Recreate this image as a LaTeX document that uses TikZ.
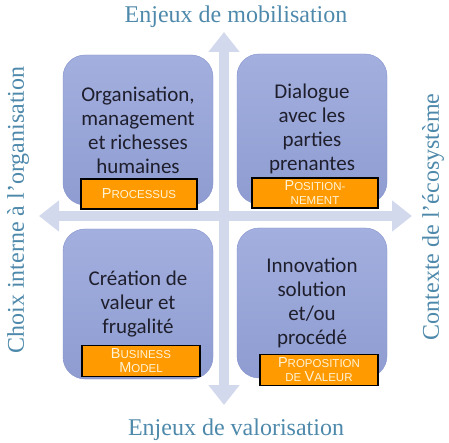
\documentclass[tikz,border=0pt]{standalone}
\usepackage{fontspec}
\setmainfont{Liberation Serif}
\newfontfamily\boxfont{Carlito}
\newfontfamily\tagfont{Liberation Sans}
\usetikzlibrary{arrows.meta}

\definecolor{axecol}{HTML}{D3D9EC}
\definecolor{quadtop}{HTML}{A3AFDE}
\definecolor{quadbot}{HTML}{8E9CD1}
\definecolor{quadline}{HTML}{8593CB}
\definecolor{quadtext}{HTML}{1E1E2C}
\definecolor{etiqfill}{HTML}{FF9A00}
\definecolor{etiqtext}{HTML}{FFF3D6}
\definecolor{titrecol}{HTML}{4E89AB}

\newcommand{\petcap}[2]{{\fontsize{14.5}{14}\selectfont #1}{\fontsize{11.5}{14}\selectfont #2}}

\tikzset{
  quad/.style={rounded corners=22pt, draw=quadline, top color=quadtop, bottom color=quadbot,
    minimum width=150pt, minimum height=150pt, align=center, text=quadtext,
    font=\boxfont\fontsize{21}{24}\selectfont},
  etiq/.style={draw=black, line width=1.2pt, fill=etiqfill, text=etiqtext, align=center,
    inner sep=0pt, font=\tagfont\fontsize{11.5}{14}\selectfont},
  axe/.style={draw=axecol, line width=10pt,
    {Triangle[width=30pt,length=20pt]}-{Triangle[width=30pt,length=20pt]}},
  titre/.style={text=titrecol, font=\fontsize{24}{24}\selectfont}
}

\begin{document}
\begin{tikzpicture}[x=1pt,y=-1pt]
    \useasboundingbox (0,0) rectangle (449,443);

    % axes
    \coordinate (haut) at (224,32);
    \coordinate (bas) at (224,405);
    \coordinate (gauche) at (39,216);
    \coordinate (droite) at (412,216);
    \draw[axe] (haut) -- (bas);
    \draw[axe] (gauche) -- (droite);

    \node[titre] (mobil) at (236,17) {Enjeux de mobilisation};
    \node[titre] (valor) at (236,430) {Enjeux de valorisation};
    \node[titre,rotate=90] (interne) at (18,210) {Choix interne à l'organisation};
    \node[titre,rotate=90] (ecosys) at (433,217) {Contexte de l'écosystème};

    % quadrants
    \node[quad] (orga) at (138,130) {Organisation,\\management\\et richesses\\humaines};
    \node[quad] (dialog) at (312,129) {Dialogue\\avec les\\parties\\prenantes};
    \node[quad] (creat) at (138,304) {Création de\\valeur et\\frugalité};
    \node[quad] (innov) at (312,303) {Innovation\\solution\\et/ou\\procédé};

    \node[etiq,minimum width=116pt,minimum height=30pt] (proc) at (139,194) {\petcap{P}{ROCESSUS}};
    \node[etiq,minimum width=126pt,minimum height=30pt] (posit) at (315,193) {\petcap{P}{OSITION-}\\\petcap{}{NEMENT}};
    \node[etiq,minimum width=118pt,minimum height=31pt] (busin) at (141,361) {\petcap{B}{USINESS}\\\petcap{M}{ODEL}};
    \node[etiq,minimum width=118pt,minimum height=31pt] (propo) at (319,370) {\petcap{P}{ROPOSITION}\\\petcap{}{DE }\petcap{V}{ALEUR}};
\end{tikzpicture}
\end{document}
